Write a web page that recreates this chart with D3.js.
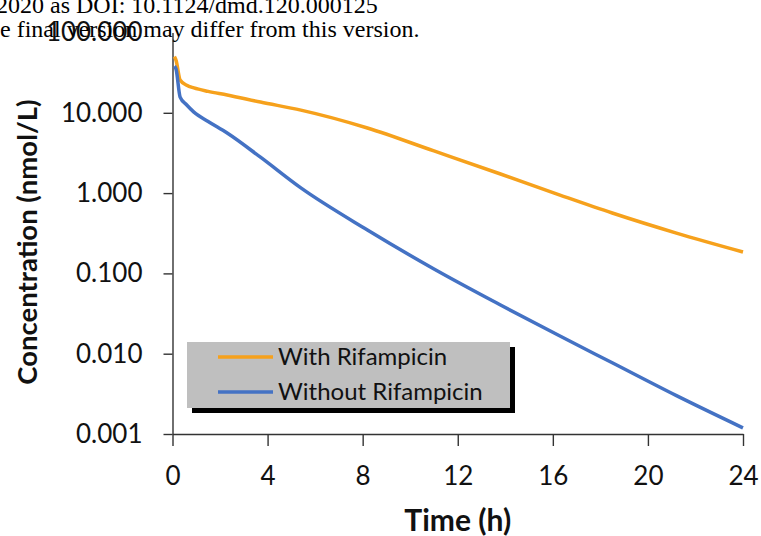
<!DOCTYPE html>
<html lang="en">
<head>
<meta charset="utf-8">
<title>concentration vs time</title>
<script src="https://cdn.jsdelivr.net/npm/d3@7"></script>
<style>
  body{
    margin:0;
    background:#fff;
  }
  .tick text{
    font-family:Lato, sans-serif;
    font-size:26px;
    fill:#111;
  }
  .header{
    font-family:"Liberation Serif", serif;
    font-size:24px;
    fill:#000;
  }
</style>
</head>
<body>
<div id="chart"></div>
<script>
// values
var times   = [0.08, 0.15, 0.32, 0.6, 0.9, 1.5, 2.3, 3.7, 5.4, 8.2, 11, 13.8, 16.3, 18.5, 21.2, 24]
var withRif = [50, 45, 25.6, 22, 20.4, 18.5, 16.7, 13.6, 10.8, 6.47, 3.35, 1.73, 0.946, 0.565, 0.318, 0.185]
var withoutRif = [38, 35, 15.7, 12.5, 10.2, 7.8, 5.6, 2.8, 1.16, 0.347, 0.1135, 0.0404, 0.0166, 0.0077, 0.003, 0.00119]
var xTicks = [0, 4, 8, 12, 16, 20, 24]
var yTicks = [0.001, 0.01, 0.1, 1, 10, 100]
var seriesNames = ["With Rifampicin", "Without Rifampicin"]
var seriesColors = ["#f6a11c", "#4472c4"]

var w = 761
var h = 536

var svg = d3.select("#chart").append("svg").attr("width", w).attr("height", h)

var x = d3.scaleLinear().domain([0, 24]).range([172.5, 743])
var y = d3.scaleLog().domain([0.001, 100]).range([434, 32.5])

// axes
var yAxis = svg.append("g")
  .attr("transform", "translate(" + x(0) + ",0)")
  .call(d3.axisLeft(y).tickValues(yTicks).tickFormat(d3.format(".3f")).tickSize(9).tickSizeOuter(0).tickPadding(21))
yAxis.selectAll(".tick line").filter(function(d){ return d == 100 }).remove()

var xAxis = svg.append("g")
  .attr("transform", "translate(0," + y(0.001) + ")")
  .call(d3.axisBottom(x).tickValues(xTicks).tickFormat(d3.format("d")).tickSize(12).tickSizeOuter(0).tickPadding(21))

svg.selectAll(".domain, .tick line").attr("stroke", "#333").attr("stroke-width", 1.4)

// lines
var line = d3.line()
  .x(function(d){ return x(d[0]) })
  .y(function(d){ return y(d[1]) })
  .curve(d3.curveMonotoneX)

var series = [withRif, withoutRif]
series.forEach(function(vals, i){
  svg.append("path")
    .datum(times.map(function(t, j){ return [t, vals[j]] }))
    .attr("fill", "none")
    .attr("stroke", seriesColors[i])
    .attr("stroke-width", 3.5)
    .attr("stroke-linejoin", "round")
    .attr("d", line)
})

// axis titles
svg.append("text")
  .attr("x", (x(0) + x(24)) / 2)
  .attr("y", 531)
  .attr("text-anchor", "middle")
  .style("font-family", "Lato, sans-serif")
  .style("font-weight", "bold")
  .style("font-size", "30px")
  .attr("fill", "#111")
  .text("Time (h)")

svg.append("text")
  .attr("transform", "translate(37,242) rotate(-90)")
  .attr("text-anchor", "middle")
  .style("font-family", "Lato, sans-serif")
  .style("font-weight", "bold")
  .style("font-size", "27.5px")
  .attr("fill", "#111")
  .text("Concentration (nmol/L)")

// legend
var leg = svg.append("g").attr("transform", "translate(187,342)")
leg.append("rect").attr("x", 5).attr("y", 5).attr("width", 323).attr("height", 66).attr("fill", "#000")
leg.append("rect").attr("width", 323).attr("height", 66).attr("fill", "#bfbfbf")
seriesNames.forEach(function(name, i){
  var ly = 15 + i * 35
  leg.append("line")
    .attr("x1", 31).attr("x2", 86)
    .attr("y1", ly).attr("y2", ly)
    .attr("stroke", seriesColors[i])
    .attr("stroke-width", 3.5)
  leg.append("text")
    .attr("x", 91)
    .attr("y", ly + 8)
    .style("font-family", "Lato, sans-serif")
    .style("font-size", "24px")
    .attr("fill", "#111")
    .text(name)
})

// header text from the page the chart was cut from
svg.append("text").attr("class", "header").attr("x", -4).attr("y", 13)
  .text("2020 as DOI: 10.1124/dmd.120.000125")
svg.append("text").attr("class", "header").attr("x", 0).attr("y", 37)
  .text("e final version may differ from this version.")
</script>
</body>
</html>
